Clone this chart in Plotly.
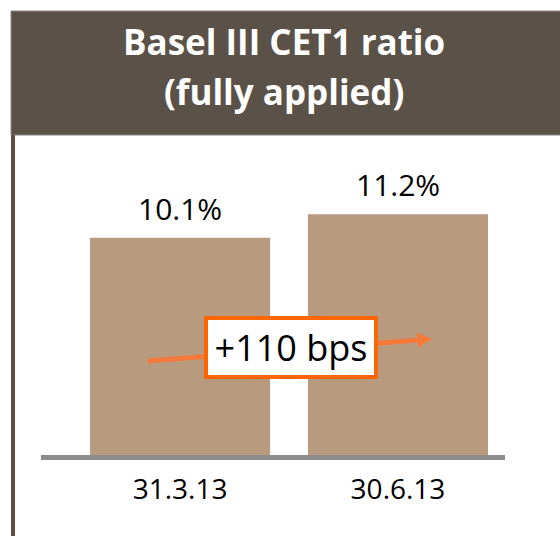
import plotly.graph_objects as go

# ---- data ----
categories = ["31.3.13", "30.6.13"]
cet1_ratio = [10.1, 11.2]
value_labels = ["10.1%", "11.2%"]
change_label = "+110 bps"
title_lines = ["Basel III CET1 ratio", "(fully applied)"]

# ---- layout geometry (pixels) ----
W, H = 560, 536
L, R, T, B = 41, 55, 140, 81
PW, PH = W - L - R, H - T - B


def px(x):
    return (x - L) / PW


def py(y):
    return (H - B - y) / PH


FONT = "Open Sans"
BAR = "#b89b7f"
HEAD = "#5a5249"
ORANGE = "#ff6600"
ARROW = "#f47a3c"

fig = go.Figure()
fig.add_trace(go.Bar(
    x=[0, 1], y=cet1_ratio, width=0.826,
    marker=dict(color=BAR, line=dict(width=0)),
    hoverinfo="skip",
))

annotations = []
# value labels
for i, (v, lab) in enumerate(zip(cet1_ratio, value_labels)):
    annotations.append(dict(
        x=i, y=v, xref="x", yref="y", text=lab, showarrow=False,
        yanchor="bottom", yshift=7,
        font=dict(family=FONT, size=30, color="black"),
    ))

# arrow (tail in bar 1, head in bar 2)
annotations.append(dict(
    x=1.157, y=5.40, ax=-0.156, ay=4.37, xref="x", yref="y",
    axref="x", ayref="y", text="", showarrow=True,
    arrowhead=2, arrowsize=0.6, arrowwidth=5, arrowcolor=ARROW,
    standoff=0, startstandoff=0,
))
# change box
annotations.append(dict(
    x=0.509, y=5.0, xref="x", yref="y", text=change_label, showarrow=False,
    xanchor="center", yanchor="middle",
    font=dict(family=FONT, size=36, color="black"),
    bgcolor="white", bordercolor=ORANGE, borderwidth=4, borderpad=0,
    width=166, height=55,
))
# title
for txt, yc in zip(title_lines, [41, 91]):
    annotations.append(dict(
        x=px(284), y=py(yc), xref="paper", yref="paper", text="<b>%s</b>" % txt,
        showarrow=False, xanchor="center", yanchor="middle",
        font=dict(family=FONT, size=35, color="white"),
    ))

shapes = [
    # header box
    dict(type="rect", xref="paper", yref="paper",
         x0=px(11), x1=px(565), y0=py(135), y1=py(11),
         fillcolor=HEAD, line=dict(color="#8f8a84", width=1), layer="below"),
    # left rule
    dict(type="rect", xref="paper", yref="paper",
         x0=px(11), x1=px(15), y0=py(540), y1=py(135),
         fillcolor=HEAD, line=dict(width=0), layer="below"),
]

fig.update_layout(
    width=W, height=H,
    margin=dict(l=L, r=R, t=T, b=B, pad=0),
    paper_bgcolor="white", plot_bgcolor="white",
    showlegend=False,
    annotations=annotations, shapes=shapes,
    xaxis=dict(
        range=[-0.638, 1.491], tickvals=[0, 1], ticktext=categories,
        showgrid=False, zeroline=False, showline=True,
        linecolor="#8c8c8c", linewidth=5, ticks="",
        ticklabelstandoff=5,
        tickfont=dict(family=FONT, size=28, color="black"),
        fixedrange=True,
    ),
    yaxis=dict(
        range=[0, PH / 21.5], visible=False, showgrid=False, zeroline=False,
        fixedrange=True,
    ),
)

fig.write_html("out.html", config={"displayModeBar": False},
               post_script="document.body.style.margin='0';")
